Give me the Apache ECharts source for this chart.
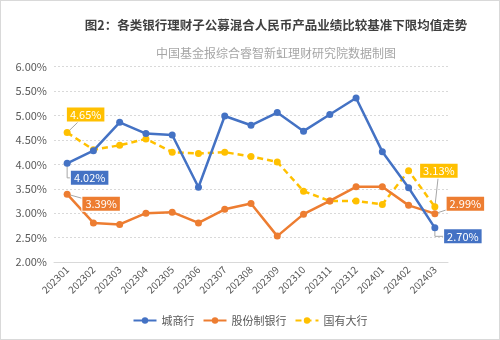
<!DOCTYPE html>
<html><head><meta charset="utf-8">
<script src="https://cdn.jsdelivr.net/npm/echarts@6/dist/echarts.min.js"></script>
<style>html,body{margin:0;padding:0;background:#fff}#c{width:500px;height:340px;box-sizing:border-box;border:1px solid #d9d9d9}</style>
</head><body><div id="c"></div>
<script>
var categories = ['202301','202302','202303','202304','202305','202306','202307','202308','202309','202310','202311','202312','202401','202402','202403'];
var cityBank = [4.02,4.28,4.86,4.63,4.60,3.53,4.99,4.80,5.06,4.68,5.02,5.36,4.26,3.52,2.70];
var jointStock = [3.39,2.80,2.77,3.00,3.02,2.80,3.08,3.20,2.53,2.98,3.25,3.54,3.54,3.16,2.99];
var stateOwned = [4.65,4.30,4.39,4.52,4.25,4.22,4.25,4.16,4.05,3.45,3.25,3.25,3.18,3.87,3.13];
var seriesNames = ['城商行','股份制银行','国有大行'];
var yTicks = {min:2, max:6, interval:0.5};

var colors = ['#4472C4','#ED7D31','#FFC000'];
// label offsets relative to the point, and leader-line style (elbow or straight)
var labelOffsets = [
  {0:[22.5,14.5,'elbow'], 14:[28,8.5,'elbow']},
  {0:[34,9.5,'straight'], 14:[30.5,-10,'straight']},
  {0:[18.5,-18,'straight'], 14:[4,-36,'straight']}
];
var allData = [cityBank, jointStock, stateOwned];
var font = '"Noto Sans CJK SC", "Noto Sans", sans-serif';
function mkSeries(i, data, dashed){
  var items = data.map(function(v, k){
    var show = (k===0 || k===data.length-1);
    return {value:v, label:{show:show}};
  });
  return {
    name: seriesNames[i], type:'line', data: items,
    symbol:'circle', symbolSize:7,
    lineStyle:{color:colors[i], width:2.5, type: dashed?[6,4]:'solid'},
    itemStyle:{color:colors[i]},
    label:{show:false, position:'inside', color:'#fff', fontSize:11, fontFamily:font,
      backgroundColor:colors[i], padding:[2,3,1,3], borderColor:'#fff', borderWidth:1,
      formatter:function(p){ return p.value.toFixed(2)+'%'; }},
    labelLayout:function(p){
      var o = labelOffsets[i][p.dataIndex];
      if(!o) return {};
      return {dx:o[0], dy:o[1]};
    },
    z: 10-i
  };
}
var chart = echarts.init(document.getElementById('c'));
chart.setOption({
  animation:false,
  title:[
    {text:'图2：各类银行理财子公募混合人民币产品业绩比较基准下限均值走势', left:270, top:13, textAlign:'center',
     textStyle:{fontSize:12.5, fontWeight:'bold', color:'#404040', fontFamily:font}},
    {text:'中国基金报综合睿智新虹理财研究院数据制图', left:270, top:41, textAlign:'center',
     textStyle:{fontSize:12, fontWeight:'normal', color:'#a6a6a6', fontFamily:font}}
  ],
  grid:{left:53, right:51, top:65.7, bottom:77, containLabel:false},
  legend:{bottom:8, left:'center', itemWidth:23, itemHeight:8, itemGap:8,
    textStyle:{fontSize:11, color:'#595959', fontFamily:font},
    data:seriesNames},
  xAxis:{type:'category', data:categories, boundaryGap:true,
    axisLine:{lineStyle:{color:'#d9d9d9'}}, axisTick:{show:false},
    axisLabel:{rotate:45, fontSize:10, color:'#595959', margin:6, interval:0, fontFamily:font}},
  yAxis:{type:'value', min:yTicks.min, max:yTicks.max, interval:yTicks.interval,
    axisLine:{show:false}, axisTick:{show:false},
    splitLine:{lineStyle:{color:'#d9d9d9', type:[2,2]}},
    axisLabel:{fontSize:11, color:'#595959', margin:7, fontFamily:font, formatter:function(v){return v.toFixed(2)+'%';}}},
  series:[mkSeries(0,cityBank,false), mkSeries(1,jointStock,false), mkSeries(2,stateOwned,true)]
});
// leader lines from each labelled point to its label, positioned through the chart's own scales
var guides = [];
allData.forEach(function(data, i){
  Object.keys(labelOffsets[i]).forEach(function(key){
    var k = +key, o = labelOffsets[i][k];
    var p = chart.convertToPixel({seriesIndex:i}, [k, data[k]]);
    var c = [p[0]+o[0], p[1]+o[1]];
    var pts = o[2]==='elbow' ? [p, [p[0], c[1]], c] : [p, c];
    guides.push({type:'polyline', z:1, silent:true, shape:{points:pts},
      style:{stroke:'#a6a6a6', lineWidth:1, fill:null}});
  });
});
chart.setOption({graphic:guides});
</script></body></html>
